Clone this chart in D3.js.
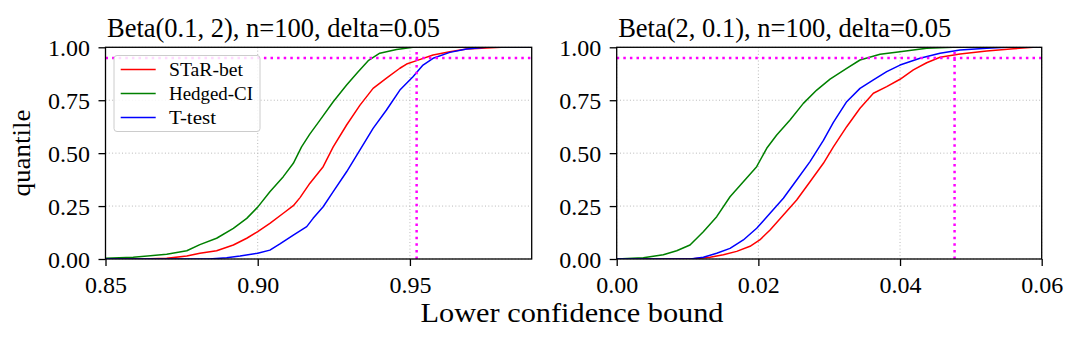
<!DOCTYPE html>
<html>
<head>
<meta charset="utf-8">
<script src="https://cdn.jsdelivr.net/npm/d3@7"></script>
<style>
  html, body { margin: 0; padding: 0; background: #fff; }
  svg { display: block; }
  text { font-family: "Liberation Serif", "Times New Roman", serif; fill: #000; }
</style>
</head>
<body>
<svg id="chart" width="1080" height="342"></svg>
<script>
// ---------------- data ----------------
const seriesNames = ["STaR-bet", "Hedged-CI", "T-test"];
const seriesColors = ["#ff0000", "#008000", "#0000ff"];

const titles = ["Beta(0.1, 2), n=100, delta=0.05", "Beta(2, 0.1), n=100, delta=0.05"];
const xDomains = [[0.85, 0.99], [0.0, 0.06]];
const xTickValues = [[0.85, 0.90, 0.95], [0.00, 0.02, 0.04, 0.06]];
const yTickValues = [0.00, 0.25, 0.50, 0.75, 1.00];
const quantileLevel = 0.95;
const trueMeanLines = [0.9522, 0.0477];
const xLabel = "Lower confidence bound";
const yLabel = "quantile";

// Panel 1: Beta(0.1, 2) — [lower bound, quantile]
const leftStar = [[0.85,0],[0.862,0.0005],[0.8701,0.003],[0.8767,0.014],[0.881,0.027],[0.8865,0.039],[0.892,0.066],[0.8964,0.098],[0.90,0.129],[0.904,0.168],[0.9084,0.216],[0.9117,0.252],[0.9139,0.29],[0.9171,0.357],[0.9215,0.436],[0.9248,0.53],[0.9292,0.633],[0.9336,0.727],[0.9379,0.806],[0.9423,0.854],[0.9467,0.901],[0.9489,0.921],[0.9522,0.937],[0.9576,0.964],[0.9631,0.979],[0.9686,0.992],[0.98,1.0],[0.99,1.0]];
const leftHedged = [[0.85,0.004],[0.8591,0.008],[0.8701,0.022],[0.8767,0.039],[0.881,0.068],[0.8865,0.098],[0.892,0.145],[0.8964,0.192],[0.90,0.245],[0.904,0.318],[0.9084,0.389],[0.9117,0.452],[0.9144,0.53],[0.9171,0.59],[0.9204,0.655],[0.9248,0.743],[0.9292,0.822],[0.933,0.885],[0.9363,0.937],[0.9401,0.972],[0.9456,0.99],[0.951,1.0],[0.99,1.0]];
const leftTtest = [[0.85,0],[0.884,0],[0.8898,0.006],[0.8942,0.014],[0.90,0.027],[0.904,0.042],[0.9073,0.071],[0.9117,0.113],[0.9161,0.153],[0.9182,0.192],[0.9215,0.247],[0.9248,0.318],[0.9292,0.412],[0.9336,0.515],[0.9379,0.617],[0.9423,0.704],[0.9467,0.798],[0.951,0.861],[0.9543,0.916],[0.9576,0.948],[0.9631,0.976],[0.9686,0.992],[0.975,1.0],[0.99,1.0]];

// Panel 2: Beta(2, 0.1)
const rightStar = [[0,0],[0.0104,0],[0.01318,0.008],[0.01506,0.02],[0.01694,0.036],[0.01882,0.06],[0.0202,0.09],[0.02165,0.137],[0.02353,0.208],[0.02541,0.279],[0.02729,0.365],[0.02918,0.452],[0.03059,0.53],[0.03247,0.625],[0.03435,0.712],[0.03624,0.783],[0.03812,0.814],[0.04,0.849],[0.04188,0.893],[0.04376,0.927],[0.04565,0.953],[0.04847,0.968],[0.05224,0.982],[0.056,0.993],[0.0588,1.0],[0.06,1.0]];
const rightHedged = [[0,0],[0.00376,0.006],[0.00658,0.02],[0.00847,0.039],[0.01035,0.066],[0.01223,0.129],[0.01412,0.2],[0.016,0.294],[0.01788,0.365],[0.01976,0.436],[0.02118,0.523],[0.02259,0.586],[0.02447,0.657],[0.02635,0.735],[0.02824,0.798],[0.03012,0.85],[0.03247,0.901],[0.03435,0.94],[0.03718,0.967],[0.04,0.979],[0.04376,0.995],[0.0475,1.0],[0.06,1.0]];
const rightTtest = [[0,0],[0.0104,0],[0.01223,0.008],[0.01412,0.027],[0.016,0.05],[0.01788,0.09],[0.01976,0.145],[0.02165,0.216],[0.02353,0.287],[0.02541,0.373],[0.02729,0.46],[0.02918,0.56],[0.03059,0.645],[0.03247,0.743],[0.03435,0.806],[0.03624,0.846],[0.03812,0.885],[0.04,0.916],[0.04282,0.948],[0.04565,0.972],[0.04847,0.987],[0.05224,0.996],[0.05506,1.0],[0.06,1.0]];

const panelSeries = [[leftStar, leftHedged, leftTtest], [rightStar, rightHedged, rightTtest]];

// ---------------- layout ----------------
const svg = d3.select("#chart");
const panelX = [[105.5, 531.7], [616.7, 1041.7]];
const plotTop = 47.3, plotBottom = 259;
const y = d3.scaleLinear().domain([0, 1]).range([plotBottom, plotTop]);
const fmt = d3.format(".2f");

panelX.forEach((rng, p) => {
  const x = d3.scaleLinear().domain(xDomains[p]).range(rng);
  const g = svg.append("g");
  const clipId = "clip" + p;
  svg.append("defs").append("clipPath").attr("id", clipId)
    .append("rect").attr("x", rng[0]).attr("y", plotTop).attr("width", rng[1] - rng[0]).attr("height", plotBottom - plotTop);

  // grid
  const grid = g.append("g").attr("stroke", "#b8b8b8").attr("stroke-width", 1).attr("stroke-dasharray", "1,2.3");
  grid.selectAll(".gx").data(xTickValues[p]).join("line")
    .attr("x1", d => x(d)).attr("x2", d => x(d)).attr("y1", plotTop).attr("y2", plotBottom);
  grid.selectAll(".gy").data(yTickValues).join("line")
    .attr("x1", rng[0]).attr("x2", rng[1]).attr("y1", d => y(d)).attr("y2", d => y(d));

  // curves
  const line = d3.line().x(d => x(d[0])).y(d => y(d[1]));
  const cg = g.append("g").attr("clip-path", `url(#${clipId})`);
  panelSeries[p].forEach((s, i) => {
    cg.append("path").attr("d", line(s)).attr("fill", "none")
      .attr("stroke", seriesColors[i]).attr("stroke-width", 1.5).attr("stroke-linejoin", "round");
  });

  // reference lines
  cg.append("line").attr("x1", rng[0]).attr("x2", rng[1]).attr("y1", y(quantileLevel)).attr("y2", y(quantileLevel))
    .attr("stroke", "#ff00ff").attr("stroke-width", 2.5).attr("stroke-dasharray", "2.5,4.1");
  cg.append("line").attr("x1", x(trueMeanLines[p])).attr("x2", x(trueMeanLines[p])).attr("y1", plotBottom).attr("y2", plotTop)
    .attr("stroke", "#ff00ff").attr("stroke-width", 2.5).attr("stroke-dasharray", "2.5,4.1");

  // axes
  const xAxis = d3.axisBottom(x).tickValues(xTickValues[p]).tickFormat(fmt).tickSize(7).tickPadding(4);
  const ax = g.append("g").attr("transform", `translate(0,${plotBottom})`).call(xAxis);
  ax.select(".domain").remove();
  ax.selectAll("line").attr("stroke", "#000").attr("stroke-width", 1.3);
  ax.selectAll("text").attr("font-size", 24).attr("dy", null).attr("y", 34);

  const yAxis = d3.axisLeft(y).tickValues(yTickValues).tickFormat(fmt).tickSize(7).tickPadding(8);
  const ay = g.append("g").attr("transform", `translate(${rng[0]},0)`).call(yAxis);
  ay.select(".domain").remove();
  ay.selectAll("line").attr("stroke", "#000").attr("stroke-width", 1.3);
  ay.selectAll("text").attr("font-size", 24).attr("dy", "0.34em").attr("x", -15.5);

  // frame
  g.append("rect").attr("x", rng[0]).attr("y", plotTop).attr("width", rng[1] - rng[0]).attr("height", plotBottom - plotTop)
    .attr("fill", "none").attr("stroke", "#000").attr("stroke-width", 1.3);

  // title
  g.append("text").attr("x", rng[0] + 1.5).attr("y", 36.5).attr("font-size", 26.5)
    .attr("textLength", 333).attr("lengthAdjust", "spacingAndGlyphs").text(titles[p]);

  // legend
  if (p === 0) {
    const lg = g.append("g");
    lg.append("rect").attr("x", 114).attr("y", 55.5).attr("width", 146).attr("height", 76).attr("rx", 3)
      .attr("fill", "#fff").attr("fill-opacity", 0.85).attr("stroke", "#cccccc").attr("stroke-width", 1);
    const legendWidths = [74, 84, 47];
    seriesNames.forEach((n, i) => {
      const cy = 69.5 + i * 24;
      lg.append("line").attr("x1", 120.7).attr("x2", 155.7).attr("y1", cy).attr("y2", cy)
        .attr("stroke", seriesColors[i]).attr("stroke-width", 1.5);
      lg.append("text").attr("x", 169).attr("y", cy + 6).attr("font-size", 18)
        .attr("textLength", legendWidths[i]).attr("lengthAdjust", "spacingAndGlyphs").text(n);
    });
  }
});

// shared labels
svg.append("text").attr("x", 572).attr("y", 322).attr("text-anchor", "middle").attr("font-size", 28)
  .attr("textLength", 303).attr("lengthAdjust", "spacingAndGlyphs").text(xLabel);
svg.append("text").attr("transform", "translate(30,153) rotate(-90)").attr("text-anchor", "middle")
  .attr("font-size", 25).attr("textLength", 87).attr("lengthAdjust", "spacingAndGlyphs").text(yLabel);
</script>
</body>
</html>
